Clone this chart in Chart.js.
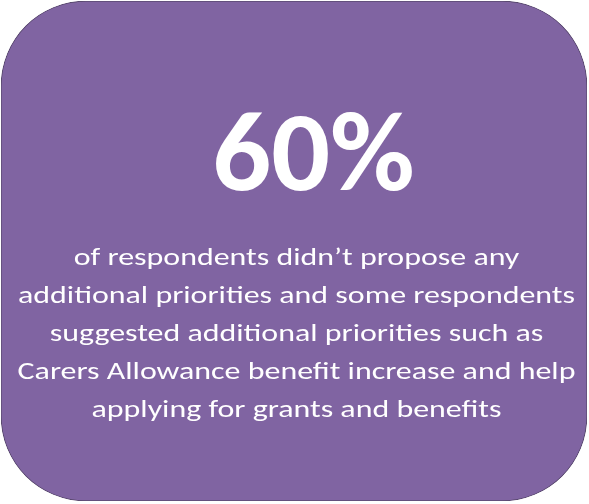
<!DOCTYPE html>
<html>
<head>
<meta charset="utf-8">
<script src="https://cdn.jsdelivr.net/npm/chart.js@4.4.1/dist/chart.umd.min.js"></script>
<style>
  html, body { margin: 0; padding: 0; background: #ffffff; }
  #wrap { width: 589px; height: 504px; }
</style>
</head>
<body>
<div id="wrap"><canvas id="c" width="589" height="504"></canvas></div>
<script>
// ---- data ----
const categories = ['Respondents'];
const shareValues = [60];
const headlineText = ['60%'];
const bodyLines = [
  'of respondents didn\u2019t propose any',
  'additional priorities and some respondents',
  'suggested additional priorities such as',
  'Carers Allowance benefit increase and help',
  'applying for grants and benefits'
];

const FONT = 'Carlito, Lato, "Open Sans", sans-serif';

const textPlugin = {
  id: 'calloutText',
  afterDatasetsDraw(chart) {
    const ctx = chart.ctx;
    ctx.save();
    ctx.fillStyle = '#ffffff';
    ctx.textAlign = 'center';
    ctx.textBaseline = 'alphabetic';

    // headline
    ctx.font = 'bold 100px ' + FONT;
    let m = ctx.measureText(headlineText[0]);
    const asc = m.actualBoundingBoxAscent || 72;
    const hSize = 100 * 78 / asc;
    ctx.font = 'bold ' + hSize + 'px ' + FONT;
    m = ctx.measureText(headlineText[0]);
    const hsx = 197 / (m.actualBoundingBoxLeft + m.actualBoundingBoxRight || m.width);
    ctx.save();
    ctx.translate(313.5, 190);
    ctx.scale(hsx, 1);
    ctx.fillText(headlineText[0], 0, 0);
    ctx.restore();

    // body
    const bSize = 25;
    ctx.font = bSize + 'px ' + FONT;
    const w2 = ctx.measureText(bodyLines[1]).width;
    const bsx = 557 / w2;
    const base0 = 265, step = 37.9;
    bodyLines.forEach((line, i) => {
      ctx.save();
      ctx.translate(296.5, base0 + i * step);
      ctx.scale(bsx, 1);
      ctx.fillText(line, 0, 0);
      ctx.restore();
    });
    ctx.restore();
  }
};

const bgPlugin = {
  id: 'whiteBg',
  beforeDraw(chart) {
    const ctx = chart.ctx;
    ctx.save();
    ctx.fillStyle = '#ffffff';
    ctx.fillRect(0, 0, chart.width, chart.height);
    ctx.restore();
  }
};

new Chart(document.getElementById('c'), {
  type: 'bar',
  data: {
    labels: categories,
    datasets: [{
      data: shareValues,
      backgroundColor: '#8064a2',
      borderColor: '#5a4a70',
      borderWidth: 1,
      borderRadius: 85,
      borderSkipped: false,
      barPercentage: 1,
      categoryPercentage: 1
    }]
  },
  options: {
    responsive: false,
    animation: false,
    devicePixelRatio: 1,
    layout: { padding: { left: 1, right: 2, top: 1, bottom: 3 } },
    plugins: { legend: { display: false }, tooltip: { enabled: false }, title: { display: false } },
    scales: {
      x: { display: false },
      y: { display: false, min: 0, max: 60 }
    }
  },
  plugins: [bgPlugin, textPlugin]
});
</script>
</body>
</html>
